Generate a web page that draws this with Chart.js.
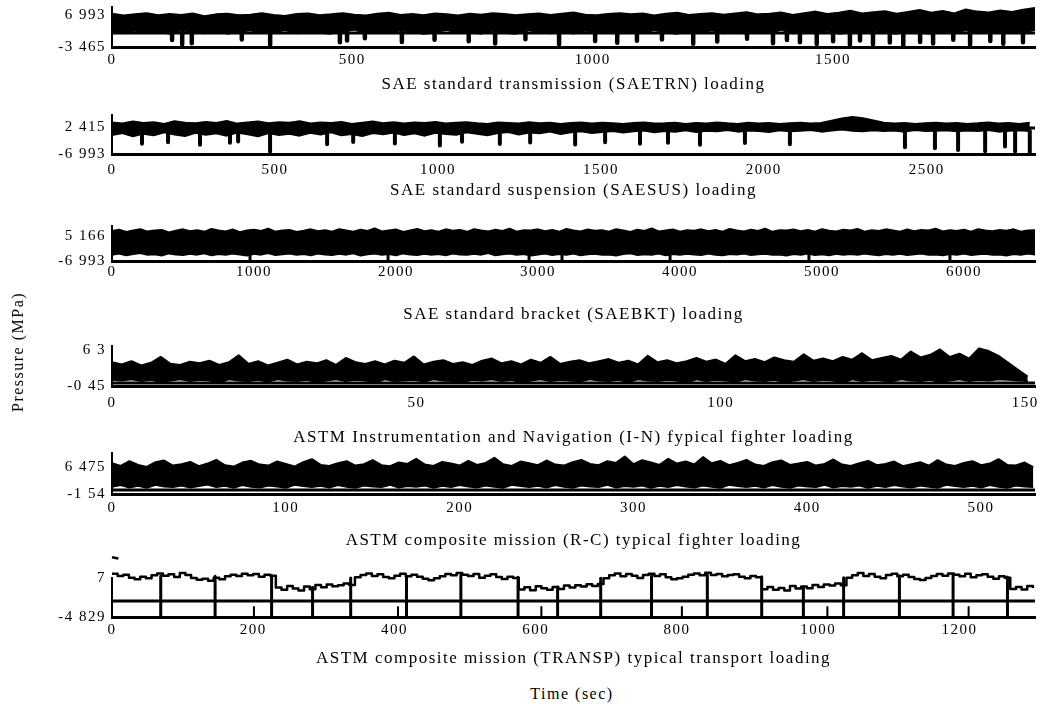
<!DOCTYPE html>
<html>
<head>
<meta charset="utf-8">
<script src="https://cdn.jsdelivr.net/npm/chart.js@4.4.1/dist/chart.umd.min.js"></script>
<style>
  body { margin: 0; background: #fff; width: 1040px; height: 704px; overflow: hidden; position: relative;
         font-family: 'Liberation Serif', 'Times New Roman', serif; color: #000; }
  canvas { position: absolute; left: 0; }
  .lab { position: absolute; white-space: nowrap; font-size: 16px; letter-spacing: 1.5px; transform: translate(-50%, -50%); }
  #ylab { left: 18px; top: 352px; transform: translate(-50%, -50%) rotate(-90deg); }
  #xlab { left: 572px; top: 694px; }
</style>
</head>
<body>
<canvas id="p1"></canvas>
<canvas id="p2"></canvas>
<canvas id="p3"></canvas>
<canvas id="p4"></canvas>
<canvas id="p5"></canvas>
<canvas id="p6"></canvas>
<div class="lab" id="ylab">Pressure (MPa)</div>
<div class="lab" id="xlab">Time (sec)</div>
<script>
// dense histories are kept as the upper / lower edge of the band they fill, plus the deep dips

// --- SAETRN ---
const trnStep = 24;
const trnUpper = [
  7.4,6.8,7.2,7.6,6.9,7.3,7.0,7.5,6.6,7.2,
  7.4,6.9,7.1,7.6,7.0,6.7,7.3,7.5,6.9,7.2,
  7.6,7.1,6.8,7.4,7.7,7.0,7.3,6.9,7.5,7.2,
  6.8,7.4,7.1,7.6,7.3,6.9,7.2,7.5,7.0,7.4,
  7.8,7.1,6.9,7.3,7.6,7.2,7.5,6.8,7.4,7.7,
  7.0,7.3,7.6,7.1,7.5,7.9,7.2,7.4,7.8,7.0,
  7.6,8.1,7.3,7.7,8.4,7.5,7.9,8.2,7.4,8.0,
  8.6,7.7,8.3,7.5,8.8,8.1,7.8,8.5,8.0,8.7,
  9.3
];
const trnLower = [
  1.3,1.0,1.9,1.1,1.6,0.9,2.1,1.4,1.0,1.8,
  0.9,1.5,2.0,1.1,1.3,2.1,1.0,1.7,1.2,0.9,
  1.8,2.2,1.0,1.5,1.1,2.0,1.6,0.9,1.3,2.2,
  1.1,1.5,0.9,1.9,1.2,0.9,2.1,1.4,1.0,1.7,
  0.9,1.9,1.2,1.6,1.0,1.8,1.1,2.1,1.3,0.9,
  1.7,1.2,2.0,1.0,1.5,0.9,1.8,1.2,2.2,1.0,
  1.6,1.1,1.9,0.9,1.4,1.0,2.0,1.3,0.9,1.7,
  1.2,0.9,1.6,1.1,2.1,1.0,1.4,1.1,1.8,1.3,
  2.2
];
const trnDipTimes = [125,146,166,270,329,474,489,526,603,671,742,797,860,930,1005,1051,1092,1144,1209,1259,
                     1321,1375,1404,1431,1466,1500,1535,1556,1583,1618,1646,1681,1708,1750,1785,1827,1854,1895];
const trnDipDepths = [-1.2,-2.6,-2.2,-1.0,-2.7,-1.9,-1.3,-0.6,-1.8,-1.1,-1.6,-2.3,-0.9,-2.6,-1.5,-2.1,-1.4,-1.0,-2.4,-1.7,
                      -0.8,-2.2,-1.2,-1.9,-2.5,-1.6,-2.8,-1.3,-2.6,-2.0,-2.9,-1.8,-2.3,-1.1,-2.7,-1.5,-2.4,-1.9];
const trnRef = 1.1;
const trnXTicks = [0, 500, 1000, 1500];
const trnYTicks = [-3.465, 6.993];
const trnYLabels = ['-3 465', '6 993'];

// --- SAESUS ---
const susStep = 32;
const susUpper = [
  4.0,3.6,4.3,3.8,4.1,3.5,4.4,3.9,3.7,4.2,
  3.8,4.5,3.6,4.0,4.3,3.7,4.1,3.9,4.4,3.6,
  4.0,3.8,4.2,3.5,3.9,4.3,3.7,4.1,3.6,4.0,
  3.8,4.2,3.6,3.9,4.1,3.7,3.5,4.0,3.8,3.6,
  4.1,3.7,3.9,3.5,3.8,4.0,3.6,3.9,3.7,3.5,
  3.8,4.0,3.6,3.7,3.9,3.5,3.8,3.6,4.0,3.7,
  3.5,3.9,3.6,3.8,3.5,3.7,3.9,3.6,3.8,4.6,
  5.4,5.9,5.5,4.7,3.9,3.6,3.8,3.5,3.7,3.9,
  3.6,3.8,3.5,3.7,4.0,3.6,3.8,3.5,3.9
];
const susLower = [
  -0.4,0.3,-0.8,0.1,-0.5,0.6,-0.2,-0.7,0.4,-0.3,
  0.2,-0.6,0.5,-0.1,-0.8,0.3,-0.4,0.1,-0.6,0.4,
  -0.2,0.6,-0.5,0.0,-0.7,0.3,-0.1,0.5,-0.4,0.2,
  -0.6,0.4,0.0,-0.3,0.6,0.1,-0.5,0.3,0.7,-0.2,
  0.5,0.2,0.8,0.0,0.6,0.9,0.3,0.7,1.0,0.5,
  0.9,1.2,0.6,1.0,0.8,1.3,0.7,1.1,0.9,1.4,
  0.8,1.2,1.0,0.7,1.3,0.9,1.1,1.4,0.8,1.2,
  1.5,1.1,0.9,1.3,1.0,1.2,0.8,1.4,1.0,1.1,
  1.3,0.9,1.2,1.0,1.4,0.8,1.1,1.3,1.0
];
const susDipTimes = [92,172,270,362,387,485,660,740,868,1006,1074,1190,1283,1421,1513,1620,1706,1804,1942,2080,
                     2433,2525,2596,2679,2740,2771,2816];
const susDipDepths = [-3.4,-2.9,-3.8,-3.1,-2.6,-6.2,-3.6,-2.8,-3.3,-4.0,-2.7,-3.5,-3.0,-3.7,-2.9,-3.4,-3.1,-3.8,-3.2,-3.6,
                      -4.6,-5.0,-5.6,-6.0,-4.4,-6.1,-6.99];
const susRef = 2.07;
const susXTicks = [0, 500, 1000, 1500, 2000, 2500];
const susYTicks = [-6.993, 2.415];
const susYLabels = ['-6 993', '2 415'];

// --- SAEBKT ---
const bktStep = 50;
const bktUpper = [
  7.6,8.2,7.1,7.9,8.5,7.3,7.8,8.1,6.9,7.7,
  8.4,7.5,8.0,7.2,8.6,7.8,7.4,8.3,7.0,7.9,
  8.2,7.6,8.7,7.3,7.9,8.1,7.1,7.7,8.4,7.5,
  8.0,7.3,8.5,7.8,7.2,8.2,7.6,8.8,7.4,7.9,
  8.3,7.1,7.8,8.6,7.5,8.0,7.3,8.4,7.7,8.1,
  7.2,8.5,7.9,7.4,8.2,7.6,8.7,7.3,8.0,7.8,
  8.4,7.5,8.1,7.2,8.6,7.9,7.4,8.3,7.7,8.0,
  7.3,8.5,7.8,7.1,8.2,7.6,8.8,7.4,7.9,8.3,
  7.2,8.0,7.7,8.4,7.5,8.1,7.3,8.6,7.8,7.4,
  8.2,7.6,8.7,7.2,8.0,7.9,8.3,7.5,8.1,7.3,
  8.5,7.7,7.4,8.2,7.9,8.6,7.3,8.0,7.6,8.4,
  7.8,7.2,8.3,7.5,8.1,7.9,8.7,7.4,8.0,7.6,
  8.2,7.3,8.5,7.8,7.5,8.1,7.7,8.4,7.2,7.9,
  8.0
];
const bktLower = [
  -3.9,-3.4,-4.2,-3.6,-3.1,-4.0,-3.7,-4.3,-3.3,-3.8,
  -4.1,-3.5,-3.9,-3.2,-4.2,-3.6,-4.0,-3.4,-3.8,-4.3,
  -3.5,-3.9,-3.1,-4.1,-3.7,-3.3,-4.0,-3.6,-4.2,-3.4,
  -3.8,-4.1,-3.5,-3.9,-3.2,-4.3,-3.7,-3.4,-4.0,-3.6,
  -4.2,-3.3,-3.8,-4.1,-3.5,-3.9,-3.6,-4.2,-3.4,-3.8,
  -4.0,-3.5,-3.9,-3.1,-4.2,-3.7,-3.4,-4.0,-3.6,-4.3,
  -3.8,-3.3,-4.1,-3.6,-3.9,-3.4,-4.2,-3.7,-3.5,-4.0,
  -3.8,-4.3,-3.6,-3.2,-4.1,-3.7,-3.9,-3.4,-4.2,-3.6,
  -4.0,-3.5,-3.8,-4.1,-3.3,-3.9,-4.2,-3.6,-3.8,-3.4,
  -4.1,-3.7,-3.5,-4.0,-3.8,-4.3,-3.6,-3.9,-3.3,-4.1,
  -3.7,-4.2,-3.5,-3.9,-3.6,-4.0,-3.4,-3.8,-4.2,-3.6,
  -3.9,-3.5,-4.1,-3.7,-3.3,-4.0,-3.8,-4.2,-3.6,-3.9,
  -3.4,-4.1,-3.7,-3.5,-4.0,-3.8,-4.3,-3.6,-3.9,-3.4,
  -3.8
];
const bktDipTimes = [972, 1944, 2937, 3169, 3930, 4908, 5901];
const bktDipDepths = [-6.99, -6.99, -6.99, -6.99, -6.99, -6.99, -6.99];
const bktXTicks = [0, 1000, 2000, 3000, 4000, 5000, 6000];
const bktYTicks = [-6.993, 5.166];
const bktYLabels = ['-6 993', '5 166'];

// --- I-N ---
const inStep = 1.6;
const inUpper = [
  4.0,3.6,4.2,3.4,3.9,5.0,3.7,3.5,4.1,3.8,
  4.3,3.5,4.0,5.3,3.7,4.2,3.4,3.9,4.5,3.6,
  4.1,3.8,4.4,3.5,4.8,4.0,3.7,4.2,3.6,4.3,
  3.9,5.1,3.6,4.1,4.4,3.7,4.0,3.5,4.3,4.7,
  3.8,4.2,3.6,4.5,3.9,5.0,3.7,4.1,4.4,3.8,
  4.2,4.6,3.9,4.3,3.6,5.2,4.0,4.4,3.8,4.2,
  4.8,4.1,4.5,3.7,5.3,4.2,4.6,4.0,4.9,4.4,
  4.1,5.5,4.3,4.7,4.2,5.0,4.5,5.7,4.4,4.8,
  5.2,4.5,6.0,4.9,5.4,6.4,5.0,5.6,4.7,6.6,
  6.1,5.2,3.9,2.6,1.3
];
const inLower = [
  0.7,0.6,0.8,0.5,0.7,0.3,0.6,0.8,0.5,0.7,
  0.6,0.2,0.8,0.6,0.5,0.7,0.4,0.8,0.6,0.5,
  0.7,0.3,0.6,0.8,0.5,0.7,0.6,0.2,0.8,0.5,
  0.6,0.7,0.4,0.8,0.6,0.5,0.3,0.7,0.6,0.8,
  0.5,0.7,0.2,0.6,0.8,0.5,0.7,0.6,0.4,0.8,
  0.6,0.5,0.7,0.3,0.8,0.6,0.5,0.7,0.6,0.2,
  0.8,0.5,0.7,0.6,0.4,0.8,0.6,0.5,0.7,0.3,
  0.6,0.8,0.5,0.7,0.6,0.2,0.8,0.5,0.7,0.6,
  0.4,0.8,0.6,0.5,0.7,0.3,0.6,0.8,0.5,0.7,
  0.6,0.8,0.7,0.6,0.5
];
const inRef = 0.11;
const inXTicks = [0, 50, 100, 150];
const inYTicks = [-0.45, 6.3];
const inYLabels = ['-0 45', '6 3'];

// --- R-C ---
const rcStep = 5;
const rcUpper = [
  7.6,6.8,8.2,7.1,6.5,7.9,8.4,6.9,7.3,8.0,
  6.7,7.5,8.6,7.0,6.6,7.8,8.3,7.2,6.9,8.1,
  7.4,6.6,7.9,8.8,7.1,6.8,7.6,8.2,6.9,7.3,
  8.5,7.0,6.7,7.8,7.4,8.9,7.2,6.8,8.0,7.5,
  6.9,8.3,7.1,7.7,9.2,7.3,6.8,8.1,7.6,7.0,
  8.4,7.2,6.9,7.9,8.6,7.4,7.0,8.2,7.7,9.6,
  7.3,8.5,7.8,7.1,8.9,7.5,8.1,7.2,9.4,7.6,
  8.3,7.0,7.7,8.6,7.2,6.8,7.9,8.4,7.1,7.5,
  8.0,6.9,7.4,8.7,7.2,6.8,7.6,8.3,7.0,7.4,
  8.1,6.7,7.3,7.9,6.9,8.5,7.2,6.8,7.7,8.2,
  7.0,7.5,8.8,7.1,6.9,7.8,6.4
];
const rcLower = [
  0.6,1.1,0.4,0.9,0.3,1.2,0.7,0.5,1.0,0.4,
  0.8,1.3,0.5,0.9,0.3,1.1,0.6,0.4,1.0,0.7,
  0.3,1.2,0.8,0.5,0.9,0.4,1.1,0.6,0.3,1.0,
  0.7,0.5,1.2,0.4,0.8,0.6,1.0,0.3,0.9,0.5,
  1.1,0.7,0.4,1.0,0.6,0.3,1.2,0.8,0.5,0.9,
  0.4,1.1,0.6,0.3,1.0,0.7,0.5,1.2,0.4,0.8,
  0.6,1.0,0.3,0.9,0.5,1.1,0.7,0.4,1.0,0.6,
  0.3,1.2,0.8,0.5,0.9,0.4,1.1,0.6,0.3,1.0,
  0.7,0.5,1.2,0.4,0.8,0.6,1.0,0.3,0.9,0.5,
  1.1,0.7,0.4,1.0,0.6,0.3,1.2,0.8,0.5,0.9,
  0.4,1.1,0.6,0.3,1.0,0.7,0.5
];
const rcRef = -0.35;
const rcXTicks = [0, 100, 200, 300, 400, 500];
const rcYTicks = [-1.54, 6.475];
const rcYLabels = ['-1 54', '6 475'];

// --- TRANSP ---
const transpStep = 8;
const transpValues = [
  8.3,7.6,8.0,7.1,6.6,7.4,6.9,7.8,8.4,7.7,8.1,7.3,8.5,7.9,7.0,6.5,6.8,6.2,7.1,6.6,7.5,8.0,7.6,8.3,7.8,8.2,7.4,8.0,7.7,
  4.1,3.4,4.6,3.8,3.2,4.4,3.6,4.9,4.2,5.0,4.5,4.8,5.3,4.9,
  7.2,7.9,8.4,7.6,8.1,7.3,6.9,7.7,8.3,7.5,8.0,7.4,6.8,6.3,6.9,7.5,8.2,7.8,8.5,8.0,7.6,8.2,7.1,7.7,8.1,7.3,6.7,7.4,7.0,
  3.5,4.2,3.3,4.5,3.9,3.4,4.3,3.7,4.7,4.1,4.8,4.4,5.1,4.6,5.2,
  6.9,7.8,8.4,7.5,8.2,7.7,7.0,7.9,8.3,7.6,8.1,7.2,6.6,6.9,7.4,8.0,8.4,7.8,8.6,7.9,8.2,7.5,7.9,8.1,7.4,6.9,7.6,7.2,
  3.6,4.3,3.4,4.0,3.2,4.6,3.8,4.4,3.9,4.9,4.3,5.0,4.7,5.3,4.8,
  7.1,7.8,8.5,7.6,8.2,7.4,6.9,7.9,8.3,7.5,8.0,7.3,6.7,6.4,7.0,7.6,8.2,7.7,8.4,8.0,7.5,8.3,7.2,7.8,8.1,7.4,6.8,7.5,7.1,
  3.7,4.3,3.5,4.6,4.0
];
const transpDropTimes = [69, 146, 226, 284, 338, 417, 494, 575, 631, 692, 764, 843, 920, 979, 1036, 1115, 1191, 1268];
const transpDropTops  = [7.5, 7.5, 7.7, 4.2, 7.0, 7.6, 7.8, 7.2, 4.3, 6.9, 7.6, 7.8, 7.4, 4.2, 7.1, 7.7, 7.8, 7.3];
const transpNotchTimes = [201, 405, 608, 807, 1013, 1213];
const transpRef = 0;
const transpXTicks = [0, 200, 400, 600, 800, 1000, 1200];
const transpYTicks = [-4.829, 7];
const transpYLabels = ['-4 829', '7'];

const tickFont = { family: "'Liberation Serif', 'Times New Roman', serif", size: 15 };
const titleFont = { family: "'Liberation Serif', 'Times New Roman', serif", size: 17 };

const spacing = { id: 'spacing', beforeDraw(chart) { chart.ctx.letterSpacing = '1.5px'; } };

function series(values, step) {
  return values.map((v, i) => ({ x: i * step, y: v }));
}

function flatLine(level, xMax) {
  return { data: [{ x: 0, y: level }, { x: xMax, y: level }], borderWidth: 3, clip: false };
}

// vertical strokes from a level down to each depth
function strokes(times, from, depths, width) {
  const pts = [];
  times.forEach((t, i) => {
    const top = Array.isArray(from) ? from[i] : from;
    const bottom = Array.isArray(depths) ? depths[i] : depths;
    pts.push({ x: t, y: top }, { x: t, y: bottom }, { x: t, y: null });
  });
  return { data: pts, borderWidth: width, clip: false, spanGaps: false, borderCapStyle: 'butt' };
}

function band(upper, lower, step) {
  return [
    { data: series(upper, step), fill: '+1', backgroundColor: '#000', borderWidth: 2, clip: false },
    { data: series(lower, step), borderWidth: 2, clip: false }
  ];
}

function makePanel(id, cfg) {
  const canvas = document.getElementById(id);
  const [yMin, yLab] = cfg.yTicks;
  const perPx = (yLab - yMin) / (cfg.yMinPx - cfg.yLabPx);
  const yMax = yLab + (cfg.yLabPx - cfg.areaTopPx) * perPx;
  canvas.width = 1040;
  canvas.height = cfg.padTop + (cfg.yMinPx - cfg.areaTopPx) + cfg.axisH;
  canvas.style.top = (cfg.areaTopPx - cfg.padTop) + 'px';

  new Chart(canvas, {
    type: 'line',
    data: { datasets: cfg.datasets },
    options: {
      responsive: false,
      animation: false,
      events: [],
      layout: { padding: { top: cfg.padTop, right: 5, left: 0, bottom: 0 } },
      plugins: { legend: { display: false }, tooltip: { enabled: false } },
      elements: {
        point: { radius: 0 },
        line: { borderColor: '#000', borderWidth: 2.5, tension: 0, borderJoinStyle: 'round', fill: false }
      },
      scales: {
        x: {
          type: 'linear', min: 0, max: cfg.xMax,
          grid: { display: false, drawTicks: false },
          border: { display: true, color: '#000', width: 3 },
          ticks: { padding: cfg.tickPad, font: tickFont, color: '#000', maxRotation: 0, autoSkip: false,
                   callback: v => String(v) },
          afterBuildTicks: s => { s.ticks = cfg.xTicks.map(v => ({ value: v })); },
          afterFit: s => { s.height = cfg.axisH; s.paddingLeft = 0; s.paddingRight = 0; },
          title: { display: true, text: cfg.title, font: titleFont, color: '#000', padding: 0 }
        },
        y: {
          type: 'linear', min: yMin, max: yMax,
          grid: { display: false, drawTicks: false },
          border: { display: true, color: '#000', width: 2 },
          ticks: { padding: 6, font: tickFont, color: '#000', autoSkip: false,
                   callback: (v, i) => cfg.yLabels[i] },
          afterBuildTicks: s => { s.ticks = cfg.yTicks.map(v => ({ value: v })); },
          afterFit: s => { s.width = 112; s.paddingTop = 0; s.paddingBottom = 0; }
        }
      }
    },
    plugins: [spacing]
  });
}

makePanel('p1', {
  areaTopPx: 7, yLabPx: 15, yMinPx: 47, padTop: 4, axisH: 48, tickPad: 4,
  xMax: 1920, xTicks: trnXTicks, yTicks: trnYTicks, yLabels: trnYLabels,
  title: 'SAE standard transmission (SAETRN) loading',
  datasets: [flatLine(trnRef, 1920), ...band(trnUpper, trnLower, trnStep),
             strokes(trnDipTimes, 2.0, trnDipDepths, 4.5)]
});

makePanel('p2', {
  areaTopPx: 115, yLabPx: 127, yMinPx: 154, padTop: 4, axisH: 47, tickPad: 7,
  xMax: 2832, xTicks: susXTicks, yTicks: susYTicks, yLabels: susYLabels,
  title: 'SAE standard suspension (SAESUS) loading',
  datasets: [flatLine(susRef, 2832), ...band(susUpper, susLower, susStep),
             strokes(susDipTimes, 1.0, susDipDepths, 4)]
});

makePanel('p3', {
  areaTopPx: 226, yLabPx: 236, yMinPx: 261, padTop: 4, axisH: 64, tickPad: 2,
  xMax: 6500, xTicks: bktXTicks, yTicks: bktYTicks, yLabels: bktYLabels,
  title: 'SAE standard bracket (SAEBKT) loading',
  datasets: [...band(bktUpper, bktLower, bktStep), strokes(bktDipTimes, -3.5, bktDipDepths, 3)]
});

makePanel('p4', {
  areaTopPx: 346, yLabPx: 350, yMinPx: 386, padTop: 4, axisH: 62, tickPad: 8,
  xMax: 151.6, xTicks: inXTicks, yTicks: inYTicks, yLabels: inYLabels,
  title: 'ASTM Instrumentation and Navigation (I-N) fypical fighter loading',
  datasets: [flatLine(inRef, 151.6), ...band(inUpper, inLower, inStep)]
});

makePanel('p5', {
  areaTopPx: 453, yLabPx: 467, yMinPx: 494, padTop: 4, axisH: 57, tickPad: 5,
  xMax: 531, xTicks: rcXTicks, yTicks: rcYTicks, yLabels: rcYLabels,
  title: 'ASTM composite mission (R-C) typical fighter loading',
  datasets: [flatLine(rcRef, 531), ...band(rcUpper, rcLower, rcStep)]
});

makePanel('p6', {
  areaTopPx: 578, yLabPx: 578, yMinPx: 617, padTop: 22, axisH: 52, tickPad: 4,
  xMax: 1307, xTicks: transpXTicks, yTicks: transpYTicks, yLabels: transpYLabels,
  title: 'ASTM composite mission (TRANSP) typical transport loading',
  datasets: [
    flatLine(transpRef, 1307),
    { data: series(transpValues, transpStep), clip: false, stepped: 'before' },
    strokes(transpDropTimes, transpDropTops, -4.829, 3),
    strokes(transpNotchTimes, -1.8, -4.829, 2),
    { data: [{ x: 0, y: 13.3 }, { x: 9, y: 12.9 }], clip: false, borderWidth: 2.5 }
  ]
});
</script>
</body>
</html>
